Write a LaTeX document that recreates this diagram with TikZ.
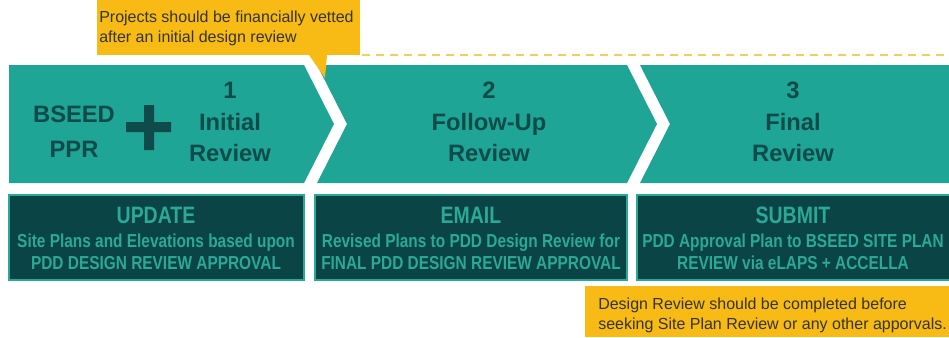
\documentclass[tikz,border=0pt]{standalone}
\usepackage{fontspec}
\setmainfont{Liberation Sans}
\newfontfamily\narrowfont{Liberation Sans}[FakeStretch=0.82]
\definecolor{chevteal}{HTML}{1FA595}
\definecolor{darkteal}{HTML}{0E4B4A}
\definecolor{boxteal}{HTML}{0B4444}
\definecolor{lightteal}{HTML}{2AA898}
\definecolor{notegold}{HTML}{F8BA14}
\definecolor{dashgold}{HTML}{F5CF5E}
\definecolor{notetext}{HTML}{353525}

\begin{document}
\begin{tikzpicture}[x=0.75pt,y=-0.75pt,
	stage/.style={font=\bfseries\fontsize{17.8}{23.5}\selectfont,text=darkteal,align=center,inner sep=0},
	boxtitle/.style={font=\narrowfont\bfseries\fontsize{17.8}{20}\selectfont,text=lightteal,inner sep=0},
	boxtext/.style={font=\narrowfont\bfseries\fontsize{14.1}{16.5}\selectfont,text=lightteal,align=center,inner sep=0},
	notetxt/.style={font=\fontsize{12}{15}\selectfont,text=notetext,align=left,inner sep=0,anchor=west},
	actionbox/.style={draw=lightteal,fill=boxteal,line width=1}]
	\useasboundingbox (0,0) rectangle (949,337);
	% chevrons
	\fill[chevteal] (9,65) -- (304,65) -- (334,124) -- (304,183) -- (9,183) -- cycle;
	\fill[chevteal] (317,65) -- (627,65) -- (657,124) -- (627,183) -- (317,183) -- (347,124) -- cycle;
	\fill[chevteal] (640,65) -- (949,65) -- (949,183) -- (640,183) -- (670,124) -- cycle;
	% top note
	\fill[notegold] (97,0) rectangle (360,55);
	\fill[notegold] (309,55) -- (327,55) -- (325,78) -- cycle;
	\draw[dashgold,line width=1.5,dash pattern=on 6pt off 4.5pt] (362,55) -- (949,55);
	\node[notetxt] (vetnote) at (99,28) {Projects should be financially vetted\\after an initial design review};
	% stages
	\node[stage] (bseed) at (74,132) {BSEED\\[3pt]PPR};
	\fill[darkteal] (126,122) rectangle (171,132) (144,105) rectangle (154,150);
	\node[stage] (initial) at (230,122) {1\\Initial\\Review};
	\node[stage] (followup) at (489,122) {2\\Follow-Up\\Review};
	\node[stage] (final) at (793,122) {3\\Final\\Review};
	% actions
	\path[actionbox] (9,195) rectangle (304,280);
	\path[actionbox] (315,195) rectangle (627,280);
	\path[actionbox] (637,195) rectangle (950,280);
	\node[boxtitle] (update) at (156,215) {UPDATE};
	\node[boxtext] (updatetxt) at (156,252) {Site Plans and Elevations based upon\\PDD DESIGN REVIEW APPROVAL};
	\node[boxtitle] (email) at (471,215) {EMAIL};
	\node[boxtext] (emailtxt) at (471,252) {Revised Plans to PDD Design Review for\\FINAL PDD DESIGN REVIEW APPROVAL};
	\node[boxtitle] (submit) at (793,215) {SUBMIT};
	\node[boxtext] (submittxt) at (793,252) {PDD Approval Plan to BSEED SITE PLAN\\REVIEW via eLAPS + ACCELLA};
	% bottom note
	\fill[notegold] (585,286) rectangle (949,337);
	\node[notetxt] (reviewnote) at (598,315) {Design Review should be completed before\\seeking Site Plan Review or any other apporvals.};
\end{tikzpicture}
\end{document}
